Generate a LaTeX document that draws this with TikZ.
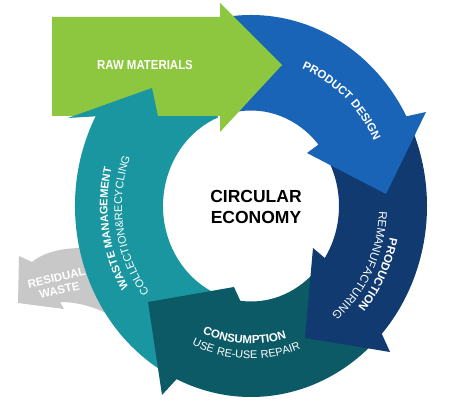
\documentclass[tikz,border=0pt]{standalone}
\usepackage{fontspec}
\setmainfont{Liberation Sans}
\newfontfamily\ringfont[LetterSpace=5]{Liberation Sans}
\usetikzlibrary{calc,decorations.text}
\definecolor{cgreen}{RGB}{141,198,63}
\definecolor{cblue}{RGB}{26,100,183}
\definecolor{cnavy}{RGB}{16,58,112}
\definecolor{cdteal}{RGB}{12,90,102}
\definecolor{cteal}{RGB}{25,150,160}
\definecolor{cgrey}{RGB}{200,200,200}
\newcommand\fbold{\ringfont\fontsize{11.5}{12}\selectfont\bfseries}
\newcommand\freg{\ringfont\fontsize{11.5}{12}\selectfont}
\newcommand\fwm{\ringfont\fontsize{11}{12}\selectfont\bfseries}
\newcommand\fcr{\ringfont\fontsize{11}{12}\selectfont}
\begin{document}
\begin{tikzpicture}[x=1pt,y=-1pt,
  outerarc/.style={x radius=176pt,y radius=191pt},
  innerarc/.style={x radius=88pt,y radius=95.5pt},
  ringtext/.style={decorate,decoration={text along path,text align=center,text color=white,text={#1}}}]
\useasboundingbox (0,0) rectangle (469,409);
\fill[white] (0,0) rectangle (469,409);
\coordinate (C) at (251,206);

% residual waste (grey)
\coordinate (R1) at (97,249);
\coordinate (R2) at (32,262);
\coordinate (R3) at (19,256);
\coordinate (R4) at (18,303);
\coordinate (R5) at (64,309);
\coordinate (R6) at (60,302);
\coordinate (R7) at (108,314);
\fill[cgrey] (R1) .. controls (72,246) and (46,250) .. (R2) -- (R3) -- (R4) -- (R5) -- (R6) .. controls (76,302) and (92,306) .. (R7) -- cycle;

% waste management body (teal)
\coordinate (Tso) at ($(C)+(240:176pt and 191pt)$);
\coordinate (Tbe) at ($(C)+(112:88pt and 95.5pt)$);
\fill[cteal] (Tso) arc[start angle=240,end angle=112,outerarc] -- (Tbe) arc[start angle=112,end angle=248,innerarc] -- cycle;

% consumption (dark teal)
\coordinate (Cso) at ($(C)+(-46:176pt and 191pt)$);
\coordinate (Cof) at (162,395);
\coordinate (Ct) at (148,302);
\coordinate (Cif) at (234,287);
\coordinate (Cie) at ($(C)+(-97:88pt and 95.5pt)$);
\fill[cdteal] (Cso) arc[start angle=-46,end angle=-115,outerarc] -- (Cof) -- (Ct) -- (Cif) -- (Cie) arc[start angle=-97,end angle=-45,innerarc] -- cycle;

% production (navy)
\coordinate (Nso) at ($(C)+(24:176pt and 191pt)$);
\coordinate (Nof) at (390,352);
\coordinate (Nt) at (305,338);
\coordinate (Nif) at (313,248);
\coordinate (Nie) at ($(C)+(-33:88pt and 95.5pt)$);
\fill[cnavy] (Nso) arc[start angle=24,end angle=-42,outerarc] -- (Nof) -- (Nt) -- (Nif) -- (Nie) arc[start angle=-33,end angle=34,innerarc] -- cycle;

% product design (blue)
\coordinate (Bso) at ($(C)+(100:176pt and 191pt)$);
\coordinate (Bof) at (426,112);
\coordinate (Bt) at (386,194);
\coordinate (Bif) at (307,153);
\coordinate (Bie) at ($(C)+(40:88pt and 95.5pt)$);
\fill[cblue] (Bso) arc[start angle=100,end angle=28,outerarc] -- (Bof) -- (Bt) -- (Bif) -- (Bie) arc[start angle=40,end angle=100,innerarc] -- cycle;

% raw materials (green)
\coordinate (G1) at (52,17);
\coordinate (G2) at (220,17);
\coordinate (G3) at (220,3);
\coordinate (G4) at (282,65);
\coordinate (G5) at (220,132);
\coordinate (G6) at (220,116);
\coordinate (G7) at (52,116);
\fill[cgreen] (G1) -- (G2) -- (G3) -- (G4) -- (G5) -- (G6) -- (G7) -- cycle;

% waste management head (teal, over green)
\coordinate (Tho) at ($(C)+(152:176pt and 191pt)$);
\coordinate (Tof) at (68,118);
\coordinate (Tt) at (152,88);
\coordinate (Tif) at ($(C)+(158:88pt and 95.5pt)$);
\fill[cteal] (Tho) -- (Tof) -- (Tt) -- (Tif) -- cycle;

% texts
\node[text=black,font=\fontsize{17.5}{21}\selectfont\bfseries,align=center] (ce) at (256,207) {CIRCULAR\\ECONOMY};
\node[text=white,font=\fontsize{13}{14}\selectfont\bfseries] (rm) at (145,65) {\scalebox{0.88}[1]{RAW MATERIALS}};
\node[text=white,rotate=13,font=\fontsize{11.5}{13}\selectfont\bfseries,align=center] (rw) at (58,284) {RESIDUAL\\WASTE};

\coordinate (pdS) at ($(C)+(80:136.8pt and 148.4pt)$);
\path[ringtext={|\fbold|PRODUCT DESIGN}] (pdS) arc[start angle=80,end angle=15,x radius=136.8pt,y radius=148.4pt];

\coordinate (prS) at ($(C)+(10:141.7pt and 153.8pt)$);
\path[ringtext={|\fbold|PRODUCTION}] (prS) arc[start angle=10,end angle=-64,x radius=141.7pt,y radius=153.8pt];

\coordinate (reS) at ($(C)+(10:128.1pt and 139pt)$);
\path[ringtext={|\freg|REMANUFACTURING}] (reS) arc[start angle=10,end angle=-64,x radius=128.1pt,y radius=139pt];

\coordinate (coS) at ($(C)+(-140:126.7pt and 137.5pt)$);
\path[ringtext={|\fbold|CONSUMPTION}] (coS) arc[start angle=-140,end angle=-46,x radius=126.7pt,y radius=137.5pt];

\coordinate (usS) at ($(C)+(-135:140.8pt and 152.8pt)$);
\path[ringtext={|\fcr|USE RE-USE REPAIR}] (usS) arc[start angle=-135,end angle=-49,x radius=140.8pt,y radius=152.8pt];

\coordinate (wmS) at ($(C)+(235:143.5pt and 155.7pt)$);
\path[ringtext={|\fwm|WASTE MANAGEMENT}] (wmS) arc[start angle=235,end angle=143,x radius=143.5pt,y radius=155.7pt];

\coordinate (crS) at ($(C)+(240:129pt and 140pt)$);
\path[ringtext={|\fcr|COLLECTION{\&}RECYCLING}] (crS) arc[start angle=240,end angle=138,x radius=129pt,y radius=140pt];
\end{tikzpicture}
\end{document}
